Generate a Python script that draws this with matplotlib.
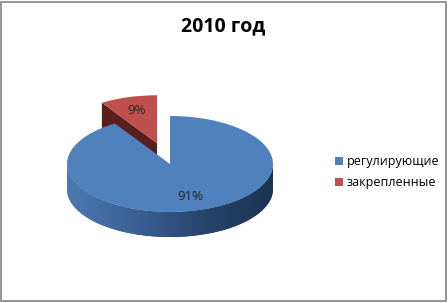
import numpy as np
import matplotlib
matplotlib.use("Agg")
from matplotlib import pyplot as plt
from matplotlib.patches import Polygon, Rectangle
from matplotlib.colors import LinearSegmentedColormap

# chart data
title = "2010 год"
labels = ["регулирующие", "закрепленные"]
shares = [91, 9]
colors = ["#4f81bd", "#c0504d"]
explode = [0, 0.45]

plt.rcParams['font.family'] = ['Open Sans', 'DejaVu Sans']

W, H = 448, 303
fig = plt.figure(figsize=(W / 100, H / 100), dpi=100)
ax = fig.add_axes([0, 0, 1, 1])

# pie centre / radii in pixels -> the squashed axes turns the circle into an ellipse
cx, cy, rx, ry = 170, 164, 103, 48
depth = 25 / ry

wedges, texts, autotexts = ax.pie(shares, colors=colors, explode=explode, startangle=90,
                                  counterclock=False, autopct='%1.0f%%', pctdistance=0.7,
                                  textprops=dict(fontsize=9.5, color="#262626"))
blue, red = wedges
blue.set_zorder(4)
red.set_zorder(2)
autotexts[0].set_zorder(6)
autotexts[1].set_zorder(6)

# side of the big slice (front half), gradient light -> dark
t = np.linspace(np.pi, 2 * np.pi, 200)
xs = np.concatenate([np.cos(t), np.cos(t[::-1])])
ys = np.concatenate([np.sin(t), np.sin(t[::-1]) - depth])
side = Polygon(np.column_stack([xs, ys]), closed=True, facecolor="#2d4a73",
               edgecolor="none", zorder=3)
ax.add_patch(side)
cmap = LinearSegmentedColormap.from_list("side", ["#4d79b2", "#3a6095", "#27446b", "#1c3252"])
im = ax.imshow(np.linspace(0, 1, 256)[None, :], extent=(-1, 1, -1 - depth, 0),
               cmap=cmap, aspect='auto', zorder=3.5)
im.set_clip_path(side)

# inner cut face of the exploded slice
c = np.array(red.center)
a = np.deg2rad(red.theta2)
e = c + np.array([np.cos(a), np.sin(a)])
face = Polygon([c, e, e - [0, depth], c - [0, depth]], closed=True,
               facecolor="#5a1f1d", edgecolor="none", zorder=1)
ax.add_patch(face)

ax.set_aspect('auto')
ax.set_xlim(-cx / rx, (W - cx) / rx)
ax.set_ylim((cy - H) / ry, cy / ry)
ax.axis('off')

fig.text(223 / W, 1 - 26 / H, title, ha='center', va='center', fontsize=14, fontweight='bold')

fig.legend(wedges, labels, loc='center left', bbox_to_anchor=(335 / W, 1 - 172 / H),
           frameon=False, fontsize=9, handlelength=0.6, handleheight=0.6,
           handletextpad=0.35, labelspacing=0.65, borderpad=0, borderaxespad=0)

fig.add_artist(Rectangle((0.002, 0.005), 0.994, 0.99, transform=fig.transFigure,
                         fill=False, edgecolor="#8c8c8c", linewidth=1.3))

fig.savefig("out.png", dpi=100)
